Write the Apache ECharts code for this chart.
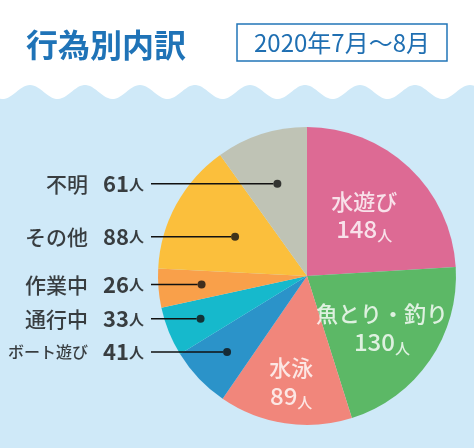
<!DOCTYPE html>
<html>
<head>
<meta charset="utf-8">
<script src="https://cdn.jsdelivr.net/npm/echarts@6/dist/echarts.min.js"></script>
<style>
html, body { margin: 0; padding: 0; background: #ffffff; }
#graph { width: 474px; height: 448px; }
</style>
</head>
<body>
<div id="graph"></div>
<script>
// data (人)
var names = ['水遊び', '魚とり・釣り', '水泳', 'ボート遊び', '通行中', '作業中', 'その他', '不明'];
var values = [148, 130, 89, 41, 33, 26, 88, 61];
var colors = ['#dd6a94', '#5cb866', '#f1867b', '#2b93c9', '#16b9cc', '#f9a04a', '#fbbf3c', '#bfc3b5'];
var innerNames = ['水遊び', '魚とり・釣り', '水泳'];
var outerNames = ['ボート遊び', '通行中', '作業中', 'その他', '不明'];

// layout only: how far out (share of radius) each label sits inside its slice
var innerRadius = { '水遊び': 0.56, '魚とり・釣り': 0.61, '水泳': 0.72 };
var dotRadius = { 'ボート遊び': 0.74, '通行中': 0.77, '作業中': 0.71, 'その他': 0.55, '不明': 0.65 };

var FONT = "'Noto Sans CJK JP', 'Noto Sans', sans-serif";
var CENTER = [307, 276];
var R = 149;

var total = 0;
for (var i = 0; i < values.length; i++) total += values[i];

// middle of each slice in data units, clockwise from the top
var midOf = {};
var acc = 0;
for (var i = 0; i < values.length; i++) {
    midOf[names[i]] = acc + values[i] / 2;
    acc += values[i];
}
function valueOf(name) { return values[names.indexOf(name)]; }

var pieData = names.map(function (n, i) {
    return { name: n, value: values[i], itemStyle: { color: colors[i] } };
});
var innerData = innerNames.map(function (n) {
    return { name: n, value: [innerRadius[n], midOf[n]] };
});
var outerData = outerNames.map(function (n) {
    return { name: n, value: [dotRadius[n], midOf[n]] };
});

// wavy water line (decoration)
var wavePts = [[0, 448]];
for (var x = 0; x <= 474; x += 2) {
    wavePts.push([x, 92 - 7 * Math.cos((x - 30) / 55 * 2 * Math.PI)]);
}
wavePts.push([474, 448]);

var chart = echarts.init(document.getElementById('graph'));
var option = {
    backgroundColor: '#ffffff',
    animation: false,
    title: {
        text: '行為別内訳',
        left: 21,
        top: 24,
        textStyle: { fontSize: 32, fontWeight: 'bold', color: '#1f73b7', fontFamily: FONT }
    },
    graphic: [
        { type: 'polygon', z: -10, shape: { points: wavePts }, style: { fill: '#cfe9f8' } },
        {
            type: 'rect', z: 10,
            shape: { x: 237, y: 24, width: 210, height: 37 },
            style: { fill: '#ffffff', stroke: '#2275b8', lineWidth: 1.5 }
        },
        {
            type: 'text', z: 11,
            style: {
                text: '2020年7月〜8月', x: 342, y: 43,
                align: 'center', verticalAlign: 'middle',
                fontSize: 24, fontFamily: FONT, fill: '#1f6fb2'
            }
        }
    ],
    polar: { center: CENTER, radius: R },
    angleAxis: { type: 'value', min: 0, max: total, startAngle: 90, clockwise: true, show: false },
    radiusAxis: { type: 'value', min: 0, max: 1, show: false },
    series: [
        {
            type: 'pie',
            center: CENTER,
            radius: R,
            startAngle: 90,
            clockwise: true,
            silent: true,
            label: { show: false },
            labelLine: { show: false },
            data: pieData
        },
        {
            // white labels inside the big slices
            type: 'scatter',
            coordinateSystem: 'polar',
            symbolSize: 1,
            itemStyle: { color: 'transparent' },
            silent: true,
            label: {
                show: true,
                position: 'inside',
                formatter: function (p) {
                    return '{n|' + p.name + '}\n{v|' + valueOf(p.name) + '}{u|人}';
                },
                rich: {
                    n: { fontSize: 22, color: '#ffffff', fontFamily: FONT, fontWeight: 500, lineHeight: 28, align: 'center' },
                    v: { fontSize: 24, color: '#ffffff', fontFamily: FONT, fontWeight: 500, lineHeight: 28 },
                    u: { fontSize: 15, color: '#ffffff', fontFamily: FONT, fontWeight: 500, lineHeight: 28, verticalAlign: 'bottom' }
                }
            },
            data: innerData
        },
        {
            // dots with lines out to the left
            type: 'scatter',
            coordinateSystem: 'polar',
            symbolSize: 8,
            itemStyle: { color: '#111111' },
            silent: true,
            label: {
                show: true,
                position: 'left',
                formatter: function (p) {
                    var key = p.name.length > 3 ? 's' : 'n';
                    return '{' + key + '|' + p.name + '}{sp| }{v|' + valueOf(p.name) + '}{u|人}{gap| }';
                },
                rich: {
                    n: { fontSize: 21, color: '#111111', fontFamily: FONT, fontWeight: 500 },
                    s: { fontSize: 16, color: '#111111', fontFamily: FONT, fontWeight: 500 },
                    sp: { width: 15 },
                    v: { fontSize: 22, color: '#111111', fontFamily: FONT, fontWeight: 'bold' },
                    u: { fontSize: 15, color: '#111111', fontFamily: FONT, fontWeight: 'bold' },
                    gap: { width: 7 }
                }
            },
            labelLine: {
                show: true,
                length2: 0,
                lineStyle: { color: '#111111', width: 1.5 }
            },
            labelLayout: function (params) {
                return {
                    x: 151,
                    y: params.rect.y + params.rect.height / 2,
                    align: 'right',
                    verticalAlign: 'middle'
                };
            },
            data: outerData
        }
    ]
};
chart.setOption(option);
</script>
</body>
</html>
